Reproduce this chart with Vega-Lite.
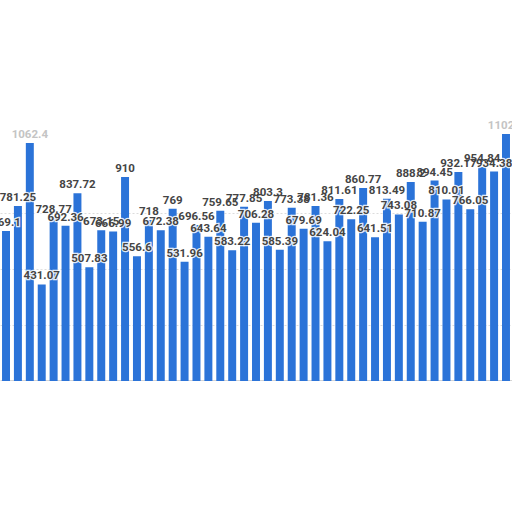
{
  "$schema": "https://vega.github.io/schema/vega-lite/v6.json",
  "width": 512,
  "height": 381,
  "padding": 0,
  "autosize": {"type": "none"},
  "background": "white",
  "data": {
    "values": [
      {"i": 0, "v": 669.1},
      {"i": 1, "v": 781.25},
      {"i": 2, "v": 1062.4},
      {"i": 3, "v": 431.07},
      {"i": 4, "v": 728.77},
      {"i": 5, "v": 692.36},
      {"i": 6, "v": 837.72},
      {"i": 7, "v": 507.83},
      {"i": 8, "v": 673.15},
      {"i": 9, "v": 666.99},
      {"i": 10, "v": 910},
      {"i": 11, "v": 556.6},
      {"i": 12, "v": 718},
      {"i": 13, "v": 672.38},
      {"i": 14, "v": 769},
      {"i": 15, "v": 531.96},
      {"i": 16, "v": 696.56},
      {"i": 17, "v": 643.64},
      {"i": 18, "v": 759.65},
      {"i": 19, "v": 583.22},
      {"i": 20, "v": 777.85},
      {"i": 21, "v": 706.28},
      {"i": 22, "v": 803.3},
      {"i": 23, "v": 585.39},
      {"i": 24, "v": 773.38},
      {"i": 25, "v": 679.69},
      {"i": 26, "v": 781.36},
      {"i": 27, "v": 624.04},
      {"i": 28, "v": 811.61},
      {"i": 29, "v": 722.25},
      {"i": 30, "v": 860.77},
      {"i": 31, "v": 641.51},
      {"i": 32, "v": 813.49},
      {"i": 33, "v": 743.08},
      {"i": 34, "v": 888.2},
      {"i": 35, "v": 710.87},
      {"i": 36, "v": 894.45},
      {"i": 37, "v": 810.01},
      {"i": 38, "v": 932.17},
      {"i": 39, "v": 766.05},
      {"i": 40, "v": 954.84},
      {"i": 41, "v": 934.38},
      {"i": 42, "v": 1102.5}
    ]
  },
  "encoding": {
    "x": {
      "field": "i",
      "type": "ordinal",
      "scale": {"paddingInner": 0.33, "paddingOuter": 0.17},
      "axis": {"title": null, "labels": false, "ticks": false, "domainColor": "#555", "domainWidth": 1.5}
    },
    "y": {
      "field": "v",
      "type": "quantitative",
      "scale": {"domain": [0, 1700], "nice": false},
      "axis": {
        "title": null, "labels": false, "ticks": false, "domain": false,
        "values": [250, 500, 750],
        "gridColor": "#dcdcdc", "gridDash": [2, 2]
      }
    }
  },
  "layer": [
    {"mark": {"type": "bar", "color": "#2b73d8"}},
    {
      "mark": {"type": "text", "baseline": "bottom", "dy": -3, "font": "Roboto", "fontSize": 11.5, "fontWeight": "bold", "stroke": "white", "strokeWidth": 2.5, "strokeOpacity": 0.85, "color": "white"},
      "encoding": {
        "text": {"field": "v", "type": "quantitative", "format": ".2~f"}
      }
    },
    {
      "mark": {"type": "text", "baseline": "bottom", "dy": -3, "font": "Roboto", "fontSize": 11.5, "fontWeight": "bold"},
      "encoding": {
        "text": {"field": "v", "type": "quantitative", "format": ".2~f"},
        "color": {"condition": {"test": "datum.v > 1000", "value": "#c4c4c4"}, "value": "#444444"}
      }
    }
  ],
  "config": {"view": {"stroke": null}}
}
